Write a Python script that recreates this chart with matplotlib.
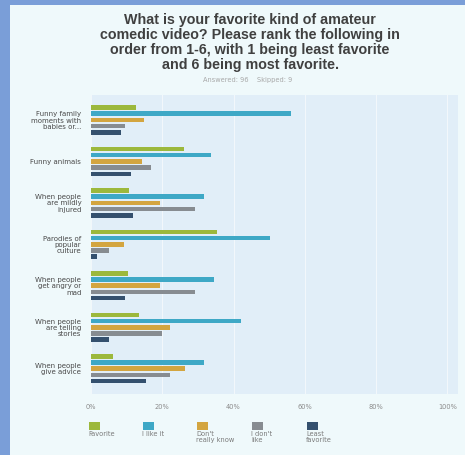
import matplotlib.pyplot as plt
from matplotlib.patches import Rectangle
import numpy as np

plt.rcParams['font.family'] = ['DejaVu Sans']

categories = ["Funny family\nmoments with\nbabies or...", "Funny animals",
              "When people\nare mildly\ninjured", "Parodies of\npopular\nculture",
              "When people\nget angry or\nmad", "When people\nare telling\nstories",
              "When people\ngive advice"]
series = ["Favorite", "I like it", "Don't\nreally know", "I don't\nlike", "Least\nfavorite"]
favorite = [12.7, 26.1, 10.6, 35.5, 10.4, 13.4, 6.2]
like_it = [56.2, 33.8, 31.6, 50.3, 34.6, 42.2, 31.6]
dont_know = [14.9, 14.4, 19.5, 9.2, 19.3, 22.1, 26.3]
dont_like = [9.5, 16.8, 29.3, 5.0, 29.1, 19.9, 22.1]
least = [8.3, 11.3, 11.8, 1.8, 9.6, 5.1, 15.5]
values = [favorite, like_it, dont_know, dont_like, least]
colors = ["#9cb83c", "#3ea8c6", "#d3a540", "#878c91", "#34506e"]
ticks = [0, 20, 40, 60, 80, 100]

fig = plt.figure(figsize=(4.65, 4.55), dpi=100)
fig.patch.set_facecolor("#7a9ed8")
fig.patches.append(Rectangle((10 / 465, 0), 1, 1 - 5 / 455, transform=fig.transFigure,
                             facecolor="#eff9fb", edgecolor="none", zorder=-5))

fig.text(0.538, 0.972, "What is your favorite kind of amateur\ncomedic video? Please rank the following in\n"
         "order from 1-6, with 1 being least favorite\nand 6 being most favorite.",
         ha="center", va="top", fontsize=10.3, fontweight="bold", color="#404040",
         linespacing=1.1, family="Liberation Sans")
fig.text(0.532, 0.824, "Answered: 96    Skipped: 9", ha="center", va="center",
         fontsize=4.8, color="#a8a8a8")

ax = fig.add_axes([91 / 465, 1 - 394 / 455, 367 / 465, 299 / 455])
ax.set_facecolor("#e1eef8")
y = np.arange(len(categories))
for i, (vals, c) in enumerate(zip(values, colors)):
    ax.barh(y + (i - 2) * 0.15, vals, height=0.11, color=c, zorder=3)

ax.set_xlim(0, 103)
ax.set_ylim(len(categories) - 0.39, -0.6)
ax.set_xticks(ticks)
ax.set_xticklabels([f"{t}%" for t in ticks], fontsize=4.8, color="#8a8a8a")
ax.set_yticks(y)
ax.set_yticklabels(categories, fontsize=5.0, color="#484848", linespacing=1.05)
ax.tick_params(length=0, pad=7)
ax.grid(axis="x", color="#f2f7fb", linewidth=0.8, zorder=1)
for s in ax.spines.values():
    s.set_visible(False)

for i, (name, c) in enumerate(zip(series, colors)):
    xs = [89, 143, 197, 252, 307][i]
    fig.patches.append(Rectangle((xs / 465, 1 - 430 / 455), 11 / 465, 8 / 455,
                                 transform=fig.transFigure, facecolor=c, edgecolor="none"))
    fig.text((xs - 1) / 465, 1 - 431 / 455, name, ha="left", va="top", fontsize=4.8,
             color="#7a7a7a", linespacing=0.95)

fig.savefig("out.png", dpi=100, facecolor=fig.get_facecolor())
